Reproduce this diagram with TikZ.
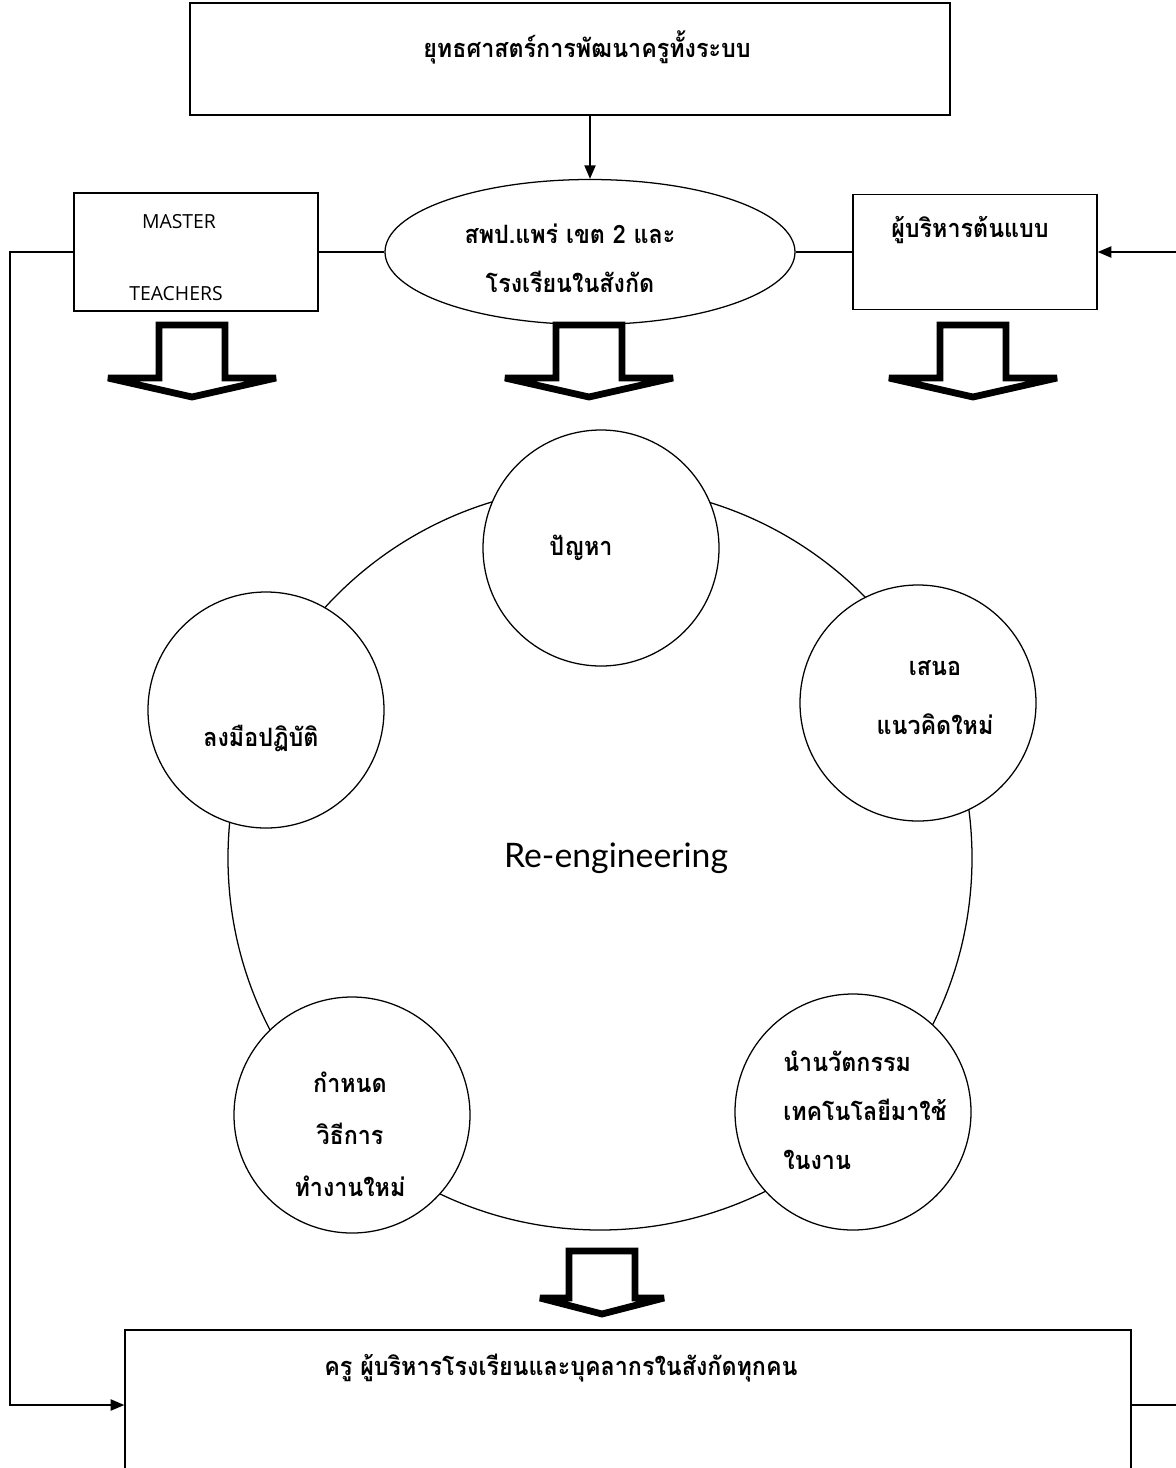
\documentclass[tikz,border=0pt]{standalone}
\usepackage{fontspec}
\setmainfont{Open Sans}
\newfontfamily\thaifont[Script=Thai, FakeStretch=0.92]{Loma}
\newfontfamily\latofont{Lato}
\usepackage{tikz}
\usetikzlibrary{arrows.meta, positioning, shapes.geometric}

\begin{document}
\begin{tikzpicture}[x=0.025cm, y=-0.025cm,
			box/.style={rectangle, draw, line width=1pt, inner sep=0pt},
			bubble/.style={circle, draw, fill=white, line width=0.9pt, minimum size=236*0.025cm, inner sep=0pt},
			thaitext/.style={font=\thaifont\bfseries\fontsize{18}{35}\selectfont, inner sep=0pt, align=center},
			link/.style={line width=0.9pt},
			arrow/.style={-{Triangle[length=3.4mm, width=2.8mm]}, line width=1.1pt},
			pics/blockarrow/.style args={#1/#2/#3}{code={
				\draw[line width=0.17cm, miter limit=4] (-33,0) -- (33,0) -- (33,#2) -- (#1,#2) -- (0,#3) -- (-#1,#2) -- (-33,#2) -- cycle;
			}}
		]
		\useasboundingbox (0,0) rectangle (1176,1468);

		\node[box, minimum width=760*0.025cm, minimum height=112*0.025cm] (strategy) at (570,59) {};
		\node[thaitext] (strategytext) at (587,47) {ยุทธศาสตร์การพัฒนาครูทั้งระบบ};

		\node[ellipse, draw, line width=0.9pt, minimum width=410*0.025cm, minimum height=145*0.025cm] (office) at (590,252) {};
		\node[thaitext] (officetext) at (570,258) {สพป.แพร่ เขต 2 และ\\โรงเรียนในสังกัด};

		\node[box, minimum width=244*0.025cm, minimum height=118*0.025cm] (master) at (196,252) {};
		\node[font=\fontsize{13.8}{16}\selectfont, inner sep=0pt] (mastertext) at (179,222) {MASTER};
		\node[font=\fontsize{13.8}{16}\selectfont, inner sep=0pt] (teacherstext) at (176,294) {TEACHERS};

		\node[box, minimum width=244*0.025cm, minimum height=115*0.025cm] (model) at (975,252) {};
		\node[thaitext] (modeltext) at (970,230) {ผู้บริหารต้นแบบ};

		\node[box, minimum width=1006*0.025cm, minimum height=150*0.025cm] (everyone) at (628,1405) {};
		\node[thaitext] (everyonetext) at (561,1368) {ครู ผู้บริหารโรงเรียนและบุคลากรในสังกัดทุกคน};

		\coordinate (leftturn) at (10,252);
		\coordinate (leftdown) at (10,1405);
		\coordinate (rightdown) at (1190,1405);
		\coordinate (rightup) at (1190,252);

		\draw[arrow] (strategy.south -| office.north) -- (office.north);
		\draw[link] (master.east) -- (office.west);
		\draw[link] (office.east) -- (model.west);
		\draw[arrow] (master.west) -- (leftturn) -- (leftdown) -- (everyone.west);
		\draw[arrow] (everyone.east) -- (rightdown) -- (rightup) -- (model.east);

		\pic at (192,325) {blockarrow=84/53/72};
		\pic at (589,325) {blockarrow=84/53/72};
		\pic at (973,325) {blockarrow=84/53/72};
		\pic at (602,1251) {blockarrow=62/47/63};

		\draw[line width=0.9pt] (600,858) circle[radius=372];
		\node[font=\latofont\fontsize{24}{28}\selectfont, anchor=east] (reeng) at (733,858) {Re-engineering};

		\node[bubble] (problem) at (601,548) {};
		\node[bubble] (propose) at (918,703) {};
		\node[bubble] (practice) at (266,710) {};
		\node[bubble] (method) at (352,1115) {};
		\node[bubble] (innovate) at (853,1112) {};

		\node[thaitext] (problemtext) at (581,548) {ปัญหา};
		\node[thaitext] (proposetext) at (935,698) {เสนอ\\[7pt]แนวคิดใหม่};
		\node[thaitext] (practicetext) at (261,738) {ลงมือปฏิบัติ};
		\node[thaitext] (methodtext) at (350,1134) {กำหนด\\[2pt]วิธีการ\\[2pt]ทำงานใหม่};
		\node[thaitext, align=left, anchor=west] (innovatetext) at (783,1110) {นำนวัตกรรม\\เทคโนโลยีมาใช้\\ในงาน};
		\end{tikzpicture}
\end{document}
